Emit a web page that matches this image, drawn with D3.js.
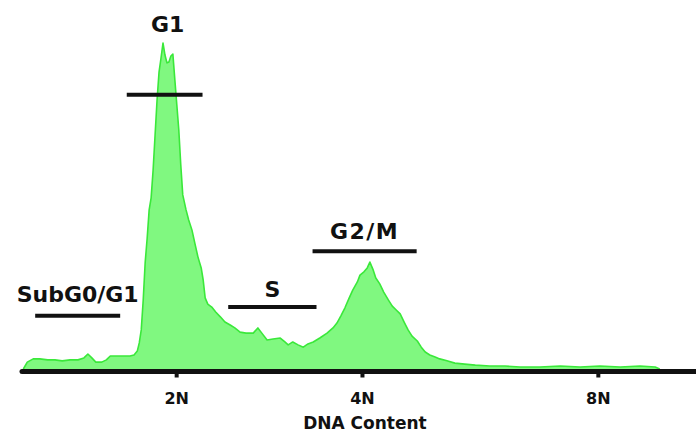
<!DOCTYPE html>
<html>
<head>
<meta charset="utf-8">
<script src="https://cdn.jsdelivr.net/npm/d3@7"></script>
<style>
  html, body { margin: 0; padding: 0; background: #fff; }
  svg { display: block; }
  text { font-family: "DejaVu Sans", sans-serif; font-weight: bold; fill: #111; }
</style>
</head>
<body>
<svg id="chart" width="696" height="434"></svg>
<script>
// DNA content histogram (channel, event count)
const channels = [2, 8, 17, 27, 39, 50, 61, 73, 85, 94, 100, 106, 112, 121, 128, 134, 143, 155, 164, 170,
  175, 178, 181, 184, 187, 190, 193, 196, 199, 202, 205, 208, 211, 214, 217, 220, 223, 226, 229, 232,
  235, 238, 241, 244, 249, 253, 258, 263, 267, 272, 275, 278, 282, 288, 294, 301, 308, 316, 323, 331,
  340, 351, 358, 364, 372, 381, 392, 399, 404, 411, 419, 427, 434, 442, 452, 463, 472, 478, 484, 490,
  496, 502, 509, 513, 519, 524, 528, 533, 537, 543, 549, 556, 562, 568, 574, 580, 586, 592, 600, 606,
  612, 619, 627, 634, 645, 657, 672, 688, 710, 733, 756, 786, 817, 847, 877, 908, 938, 961, 968];
const counts = [0, 21, 31, 31, 28, 28, 25, 28, 28, 34, 46, 34, 21, 21, 28, 40, 40, 40, 40, 43,
  55, 80, 120, 212, 328, 402, 488, 525, 610, 718, 825, 911, 954, 1000, 963, 939, 942, 960, 966, 887,
  810, 733, 626, 534, 488, 457, 426, 380, 344, 310, 273, 218, 199, 190, 175, 160, 144, 135, 126, 113,
  110, 110, 126, 110, 89, 92, 95, 83, 74, 83, 74, 67, 77, 83, 95, 110, 126, 141, 163, 187,
  215, 242, 267, 288, 298, 310, 328, 304, 279, 261, 236, 212, 193, 181, 169, 144, 120, 101, 86, 67,
  52, 43, 37, 31, 25, 18, 15, 12, 9, 9, 6, 6, 9, 6, 9, 6, 9, 6, 0];

// Axis ticks
const tickChannels = [234, 516, 874];
const tickLabels = ["2N", "4N", "8N"];
const axisTitle = "DNA Content";

// Cell-cycle gates: label, channel range, gate level (count)
const gateNames = ["SubG0/G1", "G1", "S", "G2/M"];
const gateStart = [20, 159, 313, 441];
const gateEnd = [149, 274, 447, 599];
const gateLevel = [163, 841, 190, 361];

const svg = d3.select("#chart");
const x = d3.scaleLinear().domain([0, 1023]).range([22, 696]);
const y = d3.scaleLinear().domain([0, 1000]).range([369, 43]);

const data = channels.map((c, i) => ({ c, n: counts[i] }));

const area = d3.area()
  .x(d => x(d.c))
  .y0(y(0))
  .y1(d => y(d.n));
const line = d3.line()
  .x(d => x(d.c))
  .y(d => y(d.n));

svg.append("path")
  .datum(data)
  .attr("d", area)
  .attr("fill", "#80f880");
svg.append("path")
  .datum(data)
  .attr("d", line)
  .attr("fill", "none")
  .attr("stroke", "#3ae83a")
  .attr("stroke-width", 1.6)
  .attr("stroke-linejoin", "round");

// x axis
const axisY = 371.5;
const xAxis = d3.axisBottom(x)
  .tickValues(tickChannels)
  .tickFormat((d, i) => tickLabels[i])
  .tickSize(6)
  .tickPadding(15);
const gAxis = svg.append("g")
  .attr("transform", `translate(0,${axisY})`)
  .call(xAxis);
gAxis.select(".domain").remove();
gAxis.selectAll(".tick line").attr("stroke", "#111").attr("stroke-width", 4);
gAxis.selectAll(".tick text")
  .attr("font-family", "DejaVu Sans, sans-serif")
  .attr("font-weight", "bold")
  .attr("font-size", 16)
  .attr("fill", "#111");

svg.append("line")
  .attr("x1", x(0)).attr("x2", x(1023) + 4)
  .attr("y1", axisY).attr("y2", axisY)
  .attr("stroke", "#111")
  .attr("stroke-width", 5)
  .attr("stroke-linecap", "round");

svg.append("text")
  .attr("x", x(tickChannels[1]) + 3)
  .attr("y", 429)
  .attr("text-anchor", "middle")
  .attr("font-size", 17)
  .text(axisTitle);

// Gate bars and labels
const labelGap = [14, 63, 10, 12];
const labelSpacing = [0, 0, 0, 1.5];
gateNames.forEach((name, i) => {
  const x1 = x(gateStart[i]), x2 = x(gateEnd[i]);
  const yy = y(gateLevel[i]);
  svg.append("line")
    .attr("x1", x1).attr("x2", x2)
    .attr("y1", yy).attr("y2", yy)
    .attr("stroke", "#111")
    .attr("stroke-width", 4);
  svg.append("text")
    .attr("x", (x1 + x2) / 2 + (i === 1 ? 3 : 0))
    .attr("y", yy - labelGap[i])
    .attr("text-anchor", "middle")
    .attr("font-size", 22)
    .attr("letter-spacing", labelSpacing[i])
    .text(name);
});
</script>
</body>
</html>
